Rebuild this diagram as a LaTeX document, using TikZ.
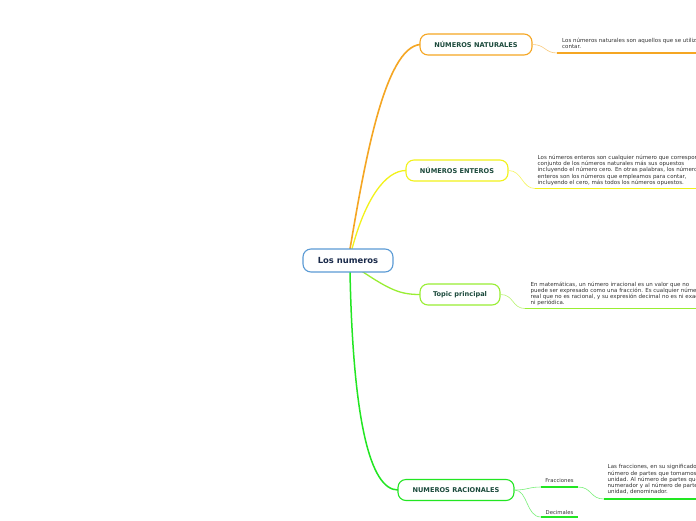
\documentclass[tikz,border=0pt]{standalone}
\usepackage{fontspec}
\setmainfont{DejaVu Sans}
\definecolor{corange}{HTML}{F5A623}
\definecolor{cyellow}{HTML}{F2F21A}
\definecolor{clgreen}{HTML}{99EE33}
\definecolor{cgreen}{HTML}{22E622}
\definecolor{cblue}{HTML}{5B9BD5}
\definecolor{ctxt}{HTML}{1C4A3C}
\definecolor{cnavy}{HTML}{1A2A4A}
\definecolor{cnote}{HTML}{333333}
\tikzset{
  topic/.style={draw, rounded corners=8pt, line width=1.1pt, fill=white, minimum height=21pt,
    font=\bfseries\fontsize{6.6}{8}\selectfont, text=ctxt, inner sep=0pt},
  note/.style={anchor=base west, align=left, font=\fontsize{5.5}{6.2}\selectfont, text=cnote, inner sep=0pt},
  small/.style={anchor=base, font=\fontsize{5.3}{6}\selectfont, text=cnote, inner sep=0pt},
  branch/.style={line width=1.3pt},
  thin/.style={line width=0.6pt},
  uline/.style={line width=1.6pt}
}
\begin{document}
\begin{tikzpicture}[x=1pt,y=-1pt]
\clip (0,0) rectangle (696,520);
\fill[white] (0,0) rectangle (696,520);

% connector coordinates
\coordinate (s1) at (350,249);
\coordinate (s2) at (352,249);
\coordinate (s3) at (360,270);
\coordinate (s4) at (350,272);

% main branches (drawn first, under nodes)
\draw[branch, corange, line width=1.6pt] (s1) .. controls (365,160) and (385,48) .. (420,44.5);
\draw[branch, cyellow] (s2) .. controls (365,200) and (385,170.5) .. (406,170.5);
\draw[branch, clgreen] (s3) .. controls (390,290) and (400,294.5) .. (420,294.5);
\draw[branch, cgreen, line width=1.5pt] (s4) .. controls (353,420) and (370,490) .. (398,490);

% nodes
\node[topic, draw=cblue, text=cnavy, minimum width=90pt, minimum height=23pt,
  font=\bfseries\fontsize{8.4}{10}\selectfont] (c) at (348,260.5) {Los numeros};
\node[topic, draw=corange, minimum width=112pt] (n1) at (476,44.5) {NÚMEROS NATURALES};
\node[topic, draw=cyellow, minimum width=102pt] (n2) at (457,170.5) {NÚMEROS ENTEROS};
\node[topic, draw=clgreen, minimum width=80pt] (n3) at (460,294.5) {Topic principal};
\node[topic, draw=cgreen, minimum width=116pt] (n4) at (456,490) {NUMEROS RACIONALES};

% NATURALES note
\coordinate (u1a) at (557,53);
\coordinate (u1b) at (696,53);
\draw[thin, corange!60] (n1.east) .. controls (545,44.5) and (545,53) .. (u1a);
\draw[uline, corange] (u1a) -- (u1b);
\node[note] (t1) at (562,48.7) {Los números naturales son aquellos que se utilizan para\\contar.};

% ENTEROS note
\coordinate (u2a) at (535,188.5);
\coordinate (u2b) at (696,188.5);
\draw[thin, cyellow!70] (n2.east) .. controls (522,170.5) and (522,188.5) .. (u2a);
\draw[uline, cyellow] (u2a) -- (u2b);
\node[note] (t2) at (537.5,184.3) {Los números enteros son cualquier número que corresponde al\\conjunto de los números naturales más sus opuestos\\incluyendo el número cero. En otras palabras, los números\\enteros son los números que empleamos para contar,\\incluyendo el cero, más todos los números opuestos.};

% Topic principal note
\coordinate (u3a) at (525,308.5);
\coordinate (u3b) at (696,308.5);
\draw[thin, clgreen!70] (n3.east) .. controls (514,294.5) and (512,308.5) .. (u3a);
\draw[uline, clgreen] (u3a) -- (u3b);
\node[note] (t3) at (530.5,304.7) {En matemáticas, un número irracional es un valor que no\\puede ser expresado como una fracción. Es cualquier número\\real que no es racional, y su expresión decimal no es ni exacta\\ni periódica.};

% RACIONALES children
\coordinate (f1) at (541,487);
\coordinate (f2) at (578,487);
\coordinate (d1) at (541,517);
\coordinate (d2) at (578,517);
\draw[thin, cgreen!60] (n4.east) .. controls (528,490) and (528,487) .. (f1);
\draw[thin, cgreen!60] (n4.east) .. controls (528,490) and (526,517) .. (d1);
\draw[uline, cgreen] (f1) -- (f2);
\draw[uline, cgreen] (d1) -- (d2);
\node[small] (fr) at (559.5,482.5) {Fracciones};
\node[small] (de) at (559.5,514) {Decimales};

\coordinate (u5a) at (604,499);
\coordinate (u5b) at (696,499);
\draw[thin, cgreen!60] (f2) .. controls (592,487) and (590,499) .. (u5a);
\draw[uline, cgreen] (u5a) -- (u5b);
\node[note] (t5) at (607.5,493.7) {Las fracciones, en su significado de partes de\\número de partes que tomamos de la\\unidad. Al número de partes que tomamos\\numerador y al número de partes de la\\unidad, denominador.};
\end{tikzpicture}
\end{document}
